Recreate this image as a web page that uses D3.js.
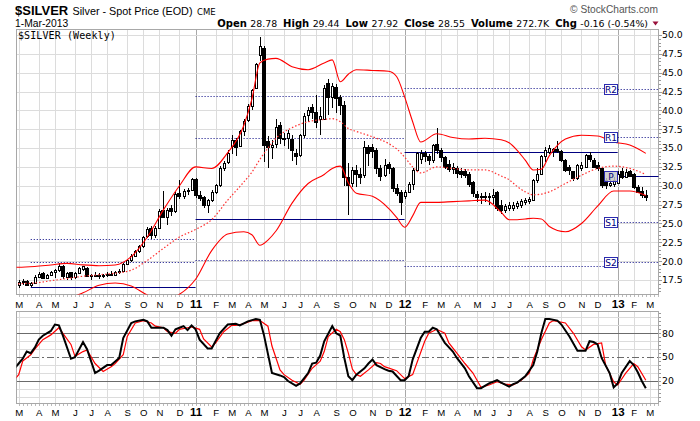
<!DOCTYPE html>
<html><head><meta charset="utf-8">
<script src="https://cdn.jsdelivr.net/npm/d3@7"></script>
<style>body{margin:0;background:#fff}svg{display:block}</style>
</head><body><svg id="c" width="700" height="421"></svg>
<script>
// ---------- DATA ----------
const firstWeek = "2010-03-01";           // Monday of first weekly bar
const openP  = [16.9,17.2,17.4,16.9,17.1,17.9,18.4,17.7,18.2,18.5,18.8,19.4,17.9,18.5,17.9,18.4,19.0,19.1,18.0,18.1,18.2,18.0,18.2,18.3,18.2,18.6,18.7,19.6,20.1,20.7,21.3,22.0,23.3,24.4,23.5,24.4,26.8,25.9,27.0,26.7,29.0,28.6,29.3,29.4,30.9,28.8,28.5,27.4,28.1,29.2,30.1,32.4,33.1,35.3,36.1,35.3,37.2,38.7,40.6,43.0,47.3,48.3,35.9,35.2,35.6,38.0,36.4,36.3,36.2,34.3,34.1,36.7,39.4,40.4,39.8,38.9,38.9,43.6,41.8,43.1,41.8,40.7,31.2,30.4,32.1,31.5,31.4,35.2,35.1,34.7,32.4,31.4,32.9,32.3,29.7,29.2,28.6,29.2,30.3,32.1,33.6,34.3,33.9,33.4,35.6,34.7,33.8,32.9,32.2,32.3,31.9,31.9,31.6,30.5,28.9,28.5,28.7,28.5,28.5,29.2,27.5,26.8,27.0,27.1,27.3,27.5,27.9,28.0,28.1,30.8,31.6,33.9,34.5,34.6,34.9,34.6,33.4,32.5,31.9,31.0,32.3,32.5,34.1,33.4,32.8,32.3,30.8,30.1,30.3,30.4,31.9,31.2,31.9,31.6,29.9,29.3,28.78];
const highP  = [17.5,17.6,17.5,17.3,18.1,18.5,18.5,18.3,18.7,19.0,19.7,19.5,18.5,18.6,18.5,19.2,19.4,19.2,18.3,18.5,18.4,18.3,18.5,18.7,18.7,19.0,19.7,20.2,20.9,21.5,22.2,23.4,24.5,24.6,24.6,26.9,29.3,27.0,27.4,29.2,30.7,29.6,29.7,31.0,31.0,29.3,28.7,28.2,29.4,30.3,32.6,33.3,34.8,36.7,36.3,37.4,38.8,40.9,42.9,46.3,49.8,48.6,36.6,36.1,38.9,38.4,37.0,37.4,36.7,34.9,36.9,39.6,40.5,40.8,42.0,40.4,43.4,44.2,43.6,43.5,42.1,41.2,33.0,32.5,32.8,32.3,35.9,35.4,35.5,35.0,32.8,33.6,33.2,32.5,30.2,29.4,29.5,30.5,32.4,34.5,34.7,34.6,34.2,35.6,37.6,35.0,34.0,33.4,33.0,32.6,32.3,32.2,31.8,30.6,29.3,29.1,29.2,29.0,29.6,29.3,28.1,27.6,27.8,27.8,28.0,28.2,28.4,28.5,30.9,32.4,34.1,35.1,35.4,35.0,35.9,34.8,33.6,32.7,32.0,32.9,33.1,34.2,34.5,33.7,33.1,32.5,31.0,30.7,31.1,31.9,32.3,32.2,32.1,31.7,30.1,29.9,29.44];
const lowP   = [16.4,16.9,16.8,16.6,17.0,17.8,17.6,17.6,18.0,17.7,18.6,17.6,17.5,17.5,17.6,18.3,18.7,17.9,17.5,17.9,17.6,17.7,17.9,18.0,18.0,18.3,18.6,19.5,19.9,20.6,21.1,21.8,23.1,22.9,23.1,24.3,25.8,24.8,26.0,26.4,28.2,28.2,28.8,29.3,28.4,28.0,27.0,26.4,27.8,28.9,29.9,31.9,32.9,34.2,33.9,35.2,36.6,38.5,40.0,42.8,46.5,33.2,32.3,33.6,35.0,35.5,35.3,34.9,33.3,32.8,33.8,36.3,38.4,38.9,37.6,36.8,38.7,39.4,40.3,39.7,39.4,30.0,26.1,29.9,29.9,30.3,31.0,32.6,33.7,31.5,30.6,31.1,31.6,29.2,28.6,26.1,28.2,29.0,29.5,31.8,32.9,33.2,32.8,33.0,34.2,33.2,32.2,31.8,31.6,31.0,31.0,31.0,29.8,28.5,27.9,27.6,27.8,27.4,27.6,26.6,26.2,26.4,26.6,26.6,26.9,27.0,27.4,27.6,28.0,30.4,31.4,33.2,34.2,33.8,34.4,33.2,31.8,31.4,30.6,30.7,32.0,32.3,33.2,32.3,31.9,29.7,29.6,29.8,29.9,30.2,30.9,31.0,31.1,29.6,29.0,28.4,27.92];
const closeP = [17.2,17.4,16.9,17.1,17.9,18.3,17.7,18.2,18.6,18.8,19.4,18.0,18.4,17.9,18.4,19.1,19.3,18.0,18.1,18.2,18.0,18.2,18.3,18.2,18.6,18.7,19.6,20.1,20.7,21.3,22.0,23.2,24.3,23.5,24.4,26.7,25.9,26.8,26.6,28.9,28.6,29.3,29.4,30.9,28.8,28.4,27.4,28.1,29.2,30.1,32.4,33.0,34.3,36.1,35.2,37.2,38.6,40.6,42.7,46.1,48.6,35.4,35.2,35.4,37.8,36.3,36.3,37.0,34.7,33.9,36.7,39.2,40.1,39.8,38.5,39.2,43.0,41.8,43.2,41.6,40.7,31.2,30.1,32.1,31.5,31.2,35.2,34.3,34.6,32.3,31.3,32.8,32.3,29.7,29.0,27.9,29.2,30.3,32.1,34.3,34.4,33.9,33.4,35.4,34.7,33.8,32.5,32.2,32.5,31.7,31.6,31.4,30.3,29.0,28.5,28.7,28.6,28.7,28.8,27.0,26.8,27.3,27.4,27.5,27.7,28.0,28.1,28.2,30.7,31.6,33.9,34.8,35.0,34.9,34.6,33.4,32.1,32.1,31.0,32.8,32.8,34.1,33.6,32.5,32.3,30.1,30.1,30.4,30.8,31.6,31.2,31.8,31.3,29.9,29.2,28.71,28.55];

// Bollinger bands (week index)
const bandIdx    = [-1,0,4,8,12,16,20,24,28,32,36,40,44,48,52,56,58,60,62,64,68,72,76,78,80,82,84,88,92,94,96,98,100,104,108,112,116,120,122,124,126,128,130,132,136,140,144,148,152,156];
const bandUpper  = [19.2,19.2,19.3,19.5,19.7,19.5,19.4,19.5,20.6,23.2,26.8,30.0,32.5,32.3,34.4,38.0,41.5,46.3,46.8,46.9,45.8,45.4,46.3,46.7,43.8,44.8,45.4,45.3,45.2,44.5,41.8,38.5,35.8,36.9,36.4,36.2,36.3,36.1,35.7,34.7,33.4,32.1,32.2,34.0,36.2,36.7,36.6,35.8,35.4,34.3];
const bandMiddle = [16.9,17.0,17.1,17.4,17.7,18.0,18.2,18.4,18.8,20.1,21.7,23.2,24.2,25.5,28.1,30.5,31.8,33.5,35.0,36.3,37.7,38.5,38.8,38.9,38.5,37.6,37.2,36.5,35.6,34.9,33.8,32.5,31.7,32.5,32.3,32.1,32.1,31.3,30.8,29.9,29.2,28.8,28.9,29.2,30.3,31.4,32.3,32.6,32.3,31.5];
const bandLower  = [14.5,14.6,14.8,14.8,15.0,15.8,16.8,17.1,16.7,15.5,14.8,15.6,17.6,21.4,23.6,23.9,23.5,22.1,22.8,24.0,27.7,30.3,31.5,32.3,32.6,30.4,29.0,28.6,27.0,25.8,24.5,26.0,27.8,27.8,27.9,28.0,28.1,26.5,25.5,25.5,25.6,25.7,25.6,24.6,23.9,25.0,27.3,29.3,29.3,28.7];

// Annual pivot levels
const pivotStart = ["2010-03-22","2011-01-03","2012-01-02","2013-01-07"];
const pivotEnd   = ["2011-01-03","2012-01-02","2013-01-07","2013-03-25"];
const pivotP  = [16.57,25.55,34.5,31.35];
const pivotR1 = [19.9,36.4,43.0,36.45];
const pivotR2 = [22.9,41.9,null,42.9];
const pivotS1 = [null,20.15,19.3,25.15];
const pivotS2 = [null,null,null,19.85];
const pivotLabels = ["R2","R1","P","S1","S2"];

// Slow stochastics
const kIdx = [-1,0,1,2,3,4,5,6,8,9,10,11,13,14,16,17,19,20,22,23,25,26,28,29,31,32,33,34,36,37,38,39,40,41,42,43,44,45,47,48,50,52,54,55,57,59,60,61,63,65,66,67,69,70,72,73,74,75,76,78,79,80,81,82,83,84,86,87,88,89,91,92,93,95,96,97,98,100,101,102,103,104,106,108,109,111,112,114,115,117,119,120,122,123,124,126,128,129,130,131,132,134,135,137,139,141,142,143,144,145,147,148,149,150,152,153,154,155,156];
const kVal = [36,42,48,57,55,62,72,77,83,91,90,77,48,50,69,60,30,33,40,40,49,74,93,95,97,95,87,87,87,84,77,85,87,89,84,90,85,72,61,61,80,91,92,90,95,98,97,78,30,27,25,20,14,17,30,42,43,52,70,89,80,77,49,26,21,28,36,42,47,40,35,33,32,21,21,26,47,74,82,82,87,85,68,57,49,36,26,11,11,17,21,18,13,16,18,26,40,57,80,98,98,96,91,76,58,58,70,69,66,49,30,12,17,30,45,40,31,20,11];
const dIdx = [-1,0,1,3,4,6,8,10,11,13,14,16,17,19,21,23,24,26,27,29,31,33,34,36,37,39,40,42,43,45,46,48,49,51,53,54,56,58,60,62,63,65,66,68,70,71,73,75,76,77,79,80,81,82,83,84,85,87,89,90,91,94,96,98,99,101,102,104,106,107,109,111,113,115,117,119,121,123,125,127,128,130,132,133,136,138,140,141,143,145,146,148,149,151,153,154,156];
const dVal = [22,28,45,53,60,72,78,87,80,66,51,57,59,42,32,38,42,53,76,93,96,93,89,87,82,80,85,87,88,85,73,63,68,82,90,90,92,96,96,89,64,34,28,21,16,21,36,45,57,76,85,82,72,55,35,28,26,34,43,42,38,33,23,28,42,70,80,85,80,68,55,42,30,12,15,19,16,15,21,30,47,72,93,96,93,80,63,59,66,68,40,19,15,30,42,38,21];

const priceTicks = [17.5,20,22.5,25,27.5,30,32.5,35,37.5,40,42.5,45,47.5,50];
const stochLabels = [20,50,80];
const stochGrid = [0,10,30,40,60,70,90,100];

// ---------- LAYOUT ----------
const L = 16, R = 659, mT = 29, mB = 295, sT = 311, sB = 404;
const ARIAL = "'Liberation Sans', Arial, sans-serif";
const DJV = "'DejaVu Sans', Verdana, sans-serif";
const svg = d3.select("#c");
const parse = d3.utcParse("%Y-%m-%d");
const start = parse(firstWeek);
const weekDate = i => d3.utcWeek.offset(start, i);
const x = d3.scaleUtc().domain([start, weekDate(156)]).range([18.7, 18.7 + 156 * 4.02]);
const xi = i => x(weekDate(i));
const y = d3.scaleLinear().domain([17.5, 50]).range([280, 35]);
const ys = d3.scaleLinear().domain([20, 80]).range([381, 333.3]);

const defs = svg.append("defs");
defs.append("clipPath").attr("id","cm").append("rect").attr("x",L+0.5).attr("y",mT+0.5).attr("width",R-L-1).attr("height",mB-mT-1);
defs.append("clipPath").attr("id","cs").append("rect").attr("x",L+0.5).attr("y",sT+0.5).attr("width",R-L-1).attr("height",sB-sT-1);

// ---------- HEADER ----------
svg.append("text").attr("x",15).attr("y",15).attr("font-family",ARIAL).attr("font-weight","bold").attr("font-size",13).text("$SILVER");
svg.append("text").attr("x",72.5).attr("y",15).attr("font-family",ARIAL).attr("font-size",10.8).text("Silver - Spot Price (EOD)");
svg.append("text").attr("x",197).attr("y",15).attr("font-family",DJV).attr("font-size",8.5).text("CME");
svg.append("text").attr("x",15).attr("y",26.5).attr("font-family",ARIAL).attr("font-size",10.3).text("1-Mar-2013");
svg.append("text").attr("x",658).attr("y",13).attr("text-anchor","end").attr("font-family",ARIAL).attr("font-size",10.2).attr("fill","#555").text("\u00A9 StockCharts.com");
const quote = [["Open ",true],["28.78  ",false],["High ",true],["29.44  ",false],["Low ",true],["27.92  ",false],["Close ",true],["28.55  ",false],["Volume ",true],["272.7K  ",false],["Chg ",true],["-0.16 (-0.54%)",false]];
const qt = svg.append("text").attr("x",648).attr("y",26.5).attr("text-anchor","end").attr("font-family",DJV).attr("font-size",9.6).attr("xml:space","preserve");
quote.forEach(([t,b]) => qt.append("tspan").attr("font-weight", b ? "bold" : "normal").attr("font-size", b?10:9.4).text(t));
svg.append("path").attr("d","M652.5,21.5 L658.5,21.5 L655.5,25.5 Z").attr("fill","#99103a");

// ---------- PANELS ----------
function panel(top, bottom){
  const g = svg.append("g");
  g.append("rect").attr("x",L+0.5).attr("y",top+0.5).attr("width",R-L-1).attr("height",bottom-top-1).attr("fill","#fff").attr("stroke","#a8a8a8");
  return g;
}
const gm = panel(mT, mB);
const gs = panel(sT, sB);

// month ticks (first Monday of each month)
const months = d3.utcMonth.range(parse("2010-03-01"), parse("2013-03-02"));
const monthTicks = months.map(m => ({m, x: x(d3.utcMonday.ceil(m))}));
const letters = "JFMAMJJASOND";
[[gm,mT,mB],[gs,sT,sB]].forEach(([g,t,b]) => {
  g.selectAll("line.v").data(monthTicks).join("line")
    .attr("x1",d=>Math.round(d.x)+0.5).attr("x2",d=>Math.round(d.x)+0.5)
    .attr("y1",t+1).attr("y2",b-1)
    .attr("stroke",d=>d.m.getUTCMonth()===0 ? "#a9a9a9" : "#dcdcdc");
  g.selectAll("line.w").data(d3.range(-1,160)).join("line")
    .attr("x1",i=>Math.round(xi(i))+0.5).attr("x2",i=>Math.round(xi(i))+0.5)
    .attr("y1",b).attr("y2",b+2).attr("stroke","#bbb")
    .attr("display", i => (xi(i) > L && xi(i) < R) ? null : "none");
});
gm.selectAll("line.h").data(priceTicks).join("line")
  .attr("x1",L+1).attr("x2",R-1).attr("y1",d=>Math.round(y(d))+0.5).attr("y2",d=>Math.round(y(d))+0.5).attr("stroke","#dcdcdc");
gm.selectAll("line.mt").data(d3.range(31,101).map(v=>v/2)).join("line")
  .attr("x1",R).attr("x2",d=>R + (d%2.5===0?3:2)).attr("y1",d=>Math.round(y(d))+0.5).attr("y2",d=>Math.round(y(d))+0.5)
  .attr("stroke","#999").attr("display",d=>y(d)>mT&&y(d)<mB?null:"none");
gm.selectAll("text.pl").data(priceTicks).join("text")
  .attr("x",662).attr("y",d=>y(d)).attr("dy","0.36em").attr("font-family",DJV).attr("font-size",9.3).text(d=>d.toFixed(1));

gs.selectAll("line.h").data(stochGrid).join("line")
  .attr("x1",L+1).attr("x2",R-1).attr("y1",d=>Math.round(ys(d))+0.5).attr("y2",d=>Math.round(ys(d))+0.5).attr("stroke","#dcdcdc");
gs.selectAll("line.k").data(stochLabels).join("line")
  .attr("x1",L+1).attr("x2",R-1).attr("y1",d=>Math.round(ys(d))+0.5).attr("y2",d=>Math.round(ys(d))+0.5)
  .attr("stroke","#6b6b6b").attr("stroke-dasharray",d=>d===50?"7,3,2,3":null);
gs.selectAll("line.mt").data(d3.range(-5,106,5)).join("line")
  .attr("x1",R).attr("x2",R+2).attr("y1",d=>Math.round(ys(d))+0.5).attr("y2",d=>Math.round(ys(d))+0.5)
  .attr("stroke","#999").attr("display",d=>ys(d)>sT&&ys(d)<sB?null:"none");
gs.selectAll("text.sl").data(stochLabels).join("text")
  .attr("x",662).attr("y",d=>ys(d)).attr("dy","0.36em").attr("font-family",DJV).attr("font-size",9.3).text(d=>d);

[[308],[416]].forEach(([by]) => {
  svg.append("g").selectAll("text").data(monthTicks).join("text")
    .attr("x",d=>d.x+0.5).attr("y",by).attr("text-anchor","middle")
    .attr("font-family",ARIAL)
    .attr("font-weight",d=>d.m.getUTCMonth()===0?"bold":"normal")
    .attr("font-size",d=>d.m.getUTCMonth()===0?11.5:9.6)
    .text(d=>d.m.getUTCMonth()===0 ? d3.utcFormat("%y")(d.m) : letters[d.m.getUTCMonth()]);
});

// ---------- MAIN PLOT CONTENT ----------
const cm = svg.append("g").attr("clip-path","url(#cm)");
cm.append("text").attr("x",18).attr("y",38.5).attr("font-family","'DejaVu Sans Mono', monospace").attr("font-size",10).attr("letter-spacing",0.1).text("$SILVER (Weekly)");

const pivotSets = [[pivotR2,true],[pivotR1,true],[pivotP,false],[pivotS1,true],[pivotS2,true]];
pivotStart.forEach((s,k) => {
  const x1 = x(parse(s)), x2 = Math.min(x(parse(pivotEnd[k])), R);
  pivotSets.forEach(([arr,dotted]) => {
    if (arr[k] == null) return;
    cm.append("line").attr("x1",x1).attr("x2",x2)
      .attr("y1",Math.round(y(arr[k]))+0.5).attr("y2",Math.round(y(arr[k]))+0.5)
      .attr("stroke","#000080").attr("stroke-width",1)
      .attr("stroke-dasharray",dotted?"1,2":null);
  });
});

// candles
const bars = openP.map((o,i) => ({i, o, h:highP[i], l:lowP[i], c:closeP[i]}));
const cg = cm.append("g").attr("shape-rendering","crispEdges");
cg.selectAll("line").data(bars).join("line")
  .attr("x1",d=>Math.round(xi(d.i))+0.5).attr("x2",d=>Math.round(xi(d.i))+0.5)
  .attr("y1",d=>y(d.h)).attr("y2",d=>y(d.l)).attr("stroke","#000");
cg.selectAll("rect").data(bars).join("rect")
  .attr("x",d=>Math.round(xi(d.i)) - (d.c>=d.o ? 0.5 : 1.5))
  .attr("width",d=>d.c>=d.o ? 2 : 3)
  .attr("y",d=>Math.round(y(Math.max(d.o,d.c)))+0.5)
  .attr("height",d=>Math.max(1, Math.round(y(Math.min(d.o,d.c))) - Math.round(y(Math.max(d.o,d.c)))))
  .attr("fill",d=>d.c>=d.o?"#fff":"#000").attr("stroke","#000");

// bollinger bands
const bandLine = arr => d3.line().x((d,j)=>xi(bandIdx[j])).y(d=>y(d)).curve(d3.curveMonotoneX)(arr);
cm.append("path").attr("d",bandLine(bandUpper)).attr("fill","none").attr("stroke","#ff0000").attr("stroke-width",1.1);
cm.append("path").attr("d",bandLine(bandLower)).attr("fill","none").attr("stroke","#ff0000").attr("stroke-width",1.1);
cm.append("path").attr("d",bandLine(bandMiddle)).attr("fill","none").attr("stroke","#ff3030").attr("stroke-width",1.2).attr("stroke-dasharray","1.5,2");

// pivot label boxes at start of 2013 segment
const bx = x(parse(pivotStart[3]));
const lastLevels = [pivotR2[3],pivotR1[3],pivotP[3],pivotS1[3],pivotS2[3]];
lastLevels.forEach((v,k) => {
  const yy = Math.round(y(v));
  cm.append("rect").attr("x",Math.round(bx)-13.5).attr("y",yy-4.5).attr("width",13).attr("height",10)
    .attr("fill",pivotLabels[k]==="P"?"rgba(200,200,200,0.85)":"#fff").attr("stroke","#2b2bb0");
  cm.append("text").attr("x",Math.round(bx)-7).attr("y",yy+4).attr("text-anchor","middle")
    .attr("font-family",DJV).attr("font-size",9).attr("fill","#000080").text(pivotLabels[k]);
});

// ---------- STOCHASTICS ----------
const cs = svg.append("g").attr("clip-path","url(#cs)");
const sLine = (idx) => d3.line().x((d,j)=>xi(idx[j])).y(d=>ys(d));
cs.append("path").attr("d",sLine(dIdx)(dVal)).attr("fill","none").attr("stroke","#ff0000").attr("stroke-width",1.2);
cs.append("path").attr("d",sLine(kIdx)(kVal)).attr("fill","none").attr("stroke","#000").attr("stroke-width",2);
</script></body></html>
